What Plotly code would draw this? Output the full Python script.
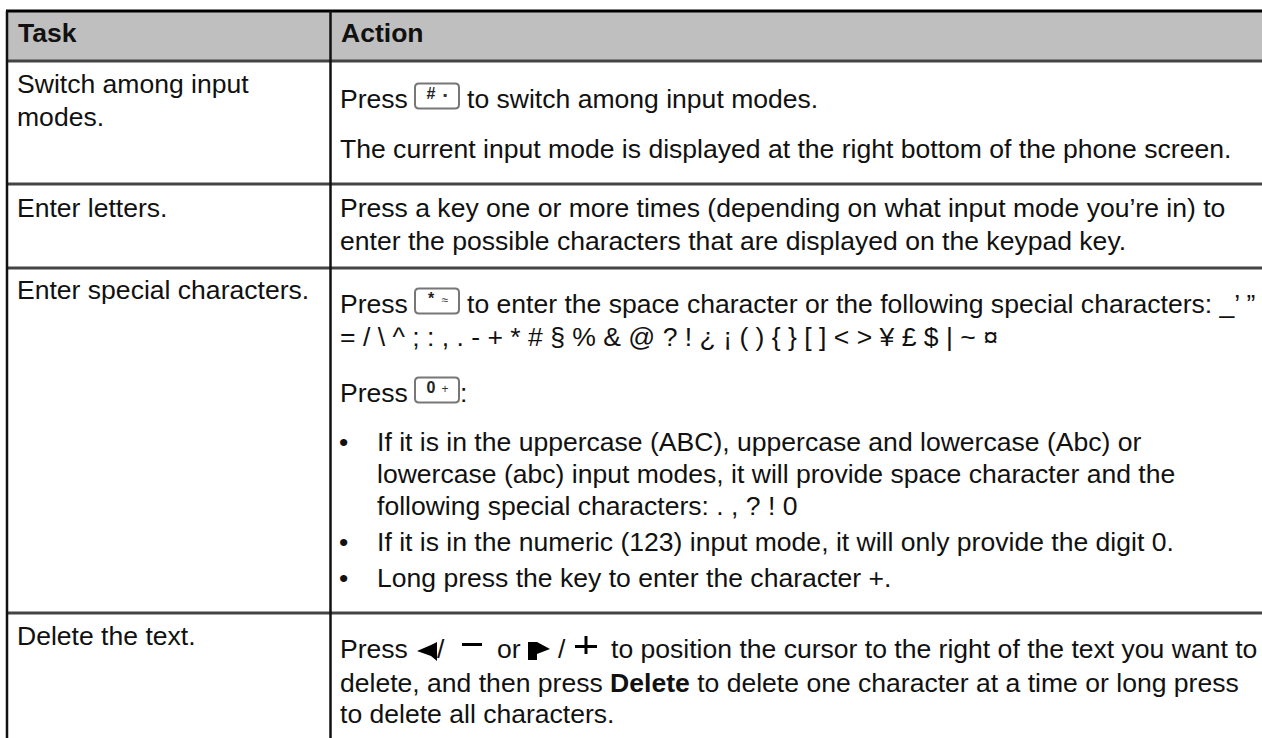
import plotly.graph_objects as go

FONT = "Liberation Sans"
INK = "#111111"
W, H = 1262, 738
SIZE = 26.55

headers = ["Task", "Action"]
header_x = [18, 341]
header_y = [35, 35]

left_lines = ["Switch among input", "modes.", "Enter letters.", "Enter special characters.", "Delete the text."]
left_x = [17, 17, 17, 17, 17]
left_y = [86, 119, 210, 292, 638]

right_lines = [
    "Press", "to switch among input modes.",
    "The current input mode is displayed at the right bottom of the phone screen.",
    "Press a key one or more times (depending on what input mode you’re in) to",
    "enter the possible characters that are displayed on the keypad key.",
    "Press", "to enter the space character or the following special characters: _’ ”",
    "= / \\ ^ ; : , . - + * # § % & @ ? ! ¿ ¡ ( ) { } [ ] < > ¥ £ $ | ~ ¤",
    "Press", ":",
    "If it is in the uppercase (ABC), uppercase and lowercase (Abc) or",
    "lowercase (abc) input modes, it will provide space character and the",
    "following special characters: . , ? ! 0",
    "If it is in the numeric (123) input mode, it will only provide the digit 0.",
    "Long press the key to enter the character +.",
    "Press", "/", "or", "/", "to position the cursor to the right of the text you want to",
    "delete, and then press <b>Delete</b> to delete one character at a time or long press",
    "to delete all characters.",
]
right_x = [340, 467, 340, 340, 340, 340, 467, 340, 340, 460, 377, 377, 377, 377, 377,
           340, 437, 497, 558, 611, 340, 340]
right_y = [101, 101, 151, 210, 243, 306, 306, 339, 395, 395, 444, 476, 508, 544, 580,
           651, 651, 651, 651, 651, 685, 716]

bullet_x = [339, 339, 339]
bullet_y = [444, 544, 580]

hline_y = [11, 61, 184, 268, 613]
hline_w = [3, 3, 3, 3, 3]
vline_x = [7, 330.5]
vline_top, vline_bottom = 11, 738
table_left, table_right = 6, 1262
header_fill = "#bfbfbf"

key_main = ["#", "*", "0"]
key_small = ["▪", "≈", "+"]
key_x0 = [415, 415, 415]
key_y = [96, 301, 390]
key_w, key_h = 44, 25


def rounded(x0, y0, x1, y1, r=4):
    return (f"M{x0 + r},{y0} L{x1 - r},{y0} Q{x1},{y0} {x1},{y0 + r} L{x1},{y1 - r} Q{x1},{y1} {x1 - r},{y1} "
            f"L{x0 + r},{y1} Q{x0},{y1} {x0},{y1 - r} L{x0},{y0 + r} Q{x0},{y0} {x0 + r},{y0} Z")


fig = go.Figure()


def add_text(xs, ys, texts, size, pos="middle right", color=INK):
    fig.add_trace(go.Scatter(x=xs, y=ys, mode="text", text=texts, textposition=pos,
                             textfont=dict(family=FONT, size=size, color=color),
                             hoverinfo="skip", showlegend=False, cliponaxis=False))


add_text(header_x, header_y, [f"<b>{t}</b>" for t in headers], SIZE)
add_text(left_x, left_y, left_lines, SIZE)
add_text(right_x, right_y, right_lines, SIZE)
add_text(bullet_x, bullet_y, ["•"] * 3, SIZE)
add_text([k + 16 for k in key_x0], [y - 1 for y in key_y], [f"<b>{t}</b>" for t in key_main], 16,
         pos="middle center", color="#222222")
add_text([k + 30 for k in key_x0], key_y, key_small, 12, pos="middle center", color="#333333")

shapes = [dict(type="rect", x0=table_left, x1=table_right, y0=hline_y[0], y1=hline_y[1],
               fillcolor=header_fill, line_width=0, layer="below")]
for y, w in zip(hline_y, hline_w):
    shapes.append(dict(type="line", x0=table_left, x1=table_right, y0=y, y1=y,
                       line=dict(color="#000000" if y == hline_y[0] else "#444444", width=w)))
for x in vline_x:
    shapes.append(dict(type="line", x0=x, x1=x, y0=vline_top, y1=vline_bottom,
                       line=dict(color="#111111", width=2.5)))
for x0, y in zip(key_x0, key_y):
    shapes.append(dict(type="path", path=rounded(x0, y - key_h / 2, x0 + key_w, y + key_h / 2),
                       line=dict(color="#777777", width=2), fillcolor="white", layer="below"))
# nav-key glyphs of the last row
shapes += [
    dict(type="path", path="M417,651 L431,645 L437,642 L437,661 L431,656 Z", fillcolor="#000000", line_width=0),
    dict(type="path", path="M528,642 L537,642 L550,649 L537,654 L537,660 L528,660 Z", fillcolor="#000000", line_width=0),
    dict(type="rect", x0=462, x1=482, y0=643, y1=646, fillcolor="#000000", line_width=0),
    dict(type="rect", x0=575, x1=597, y0=645, y1=648, fillcolor="#000000", line_width=0),
    dict(type="rect", x0=584.5, x1=587.5, y0=636, y1=654, fillcolor="#000000", line_width=0),
]

fig.update_layout(
    width=W, height=H, margin=dict(l=0, r=0, t=0, b=0),
    paper_bgcolor="white", plot_bgcolor="white", shapes=shapes, showlegend=False,
    xaxis=dict(range=[0, W], visible=False, fixedrange=True),
    yaxis=dict(range=[H, 0], visible=False, fixedrange=True),
)
fig.write_html("out.html", config={"displayModeBar": False},
               post_script="document.body.style.margin='0';")
